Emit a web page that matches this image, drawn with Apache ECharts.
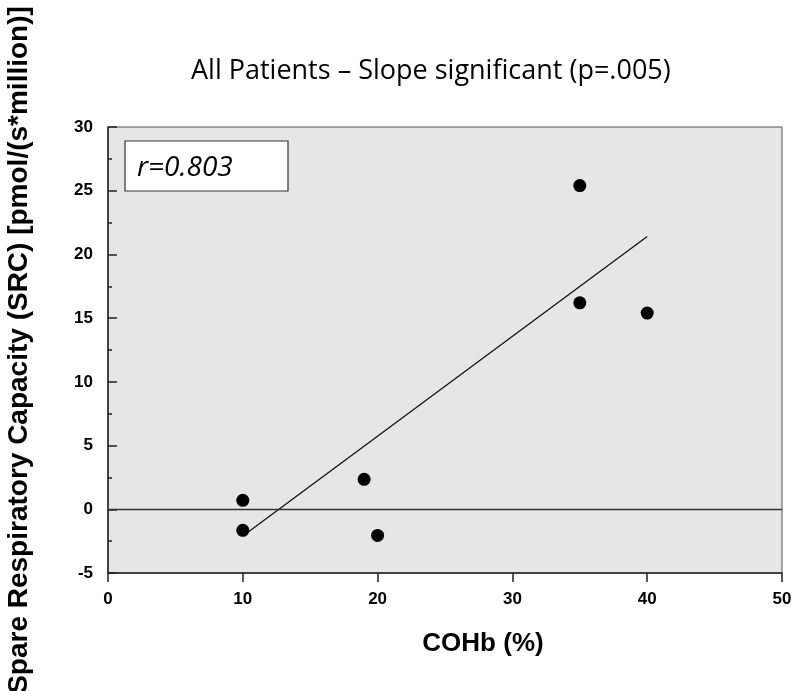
<!DOCTYPE html>
<html>
<head>
<meta charset="utf-8">
<script src="https://cdn.jsdelivr.net/npm/echarts@6/dist/echarts.min.js"></script>
<style>
  html, body { margin: 0; padding: 0; background: #fff; }
  #main { width: 800px; height: 691px; }
</style>
</head>
<body>
<div id="main"></div>
<script>
// COHb (%) vs spare respiratory capacity
const cohb = [10, 10, 19, 20, 35, 35, 40]
const src = [0.7, -1.65, 2.35, -2.05, 25.4, 16.2, 15.4]
// regression line end points
const fitX = [10, 40]
const fitY = [-2.1, 21.4]
const rText = 'r=0.803'

const chartDom = document.getElementById('main')
const myChart = echarts.init(chartDom)

const points = cohb.map((x, i) => [x, src[i]])
const fit = fitX.map((x, i) => [x, fitY[i]])

const labelFont = {
  fontFamily: 'Liberation Sans',
  fontWeight: 'bold',
  fontSize: 17,
  color: '#000',
}

let option = {
  backgroundColor: '#fff',
  animation: false,
  title: {
    text: 'All Patients – Slope significant (p=.005)',
    left: 186,
    top: 53,
    textStyle: {
      fontFamily: 'Open Sans',
      fontWeight: 'normal',
      fontSize: 27,
      color: '#000',
    },
  },
  grid: {
    left: 108,
    right: 18,
    top: 127,
    bottom: 118,
    outerBoundsMode: 'none',
    containLabel: false,
    show: true,
    backgroundColor: '#e6e6e6',
    borderColor: '#555',
    borderWidth: 1,
  },
  xAxis: {
    type: 'value',
    min: 0,
    max: 50,
    interval: 10,
    name: 'COHb (%)',
    nameLocation: 'middle',
    nameGap: 58,
    nameTextStyle: {
      fontFamily: 'Liberation Sans',
      fontWeight: 'bold',
      fontSize: 26,
      color: '#000',
      padding: [0, 0, 0, 76],
    },
    axisLine: { onZero: false, lineStyle: { color: '#222', width: 1.5 } },
    axisTick: { inside: false, length: 9, lineStyle: { color: '#222', width: 1.5 } },
    axisLabel: Object.assign({ margin: 18 }, labelFont),
    splitLine: { show: false },
  },
  yAxis: {
    type: 'value',
    min: -5,
    max: 30,
    interval: 5,
    name: 'Spare Respiratory Capacity (SRC) [pmol/(s*million)]',
    nameLocation: 'middle',
    nameGap: 75,
    nameTextStyle: {
      fontFamily: 'Liberation Sans',
      fontWeight: 'bold',
      fontSize: 28,
      color: '#000',
    },
    axisLine: { onZero: false, lineStyle: { color: '#222', width: 1.5 } },
    axisTick: { inside: true, length: 9, lineStyle: { color: '#222', width: 1.5 } },
    minorTick: { show: true, splitNumber: 2, length: 4, lineStyle: { color: '#222', width: 1.5 } },
    axisLabel: Object.assign({ margin: 15 }, labelFont),
    splitLine: { show: false },
  },
  series: [
    {
      name: 'fit',
      type: 'line',
      data: fit,
      symbol: 'none',
      lineStyle: { color: '#111', width: 1.3 },
      markLine: {
        silent: true,
        symbol: 'none',
        label: { show: false },
        lineStyle: { color: '#333', width: 1.3, type: 'solid' },
        data: [{ yAxis: 0 }],
      },
      z: 2,
    },
    {
      name: 'points',
      type: 'scatter',
      data: points,
      symbolSize: 13,
      itemStyle: { color: '#000', opacity: 1 },
      z: 3,
    },
  ],
  graphic: [
    {
      type: 'rect',
      shape: { x: 125, y: 141, width: 163, height: 50 },
      style: { fill: '#fff', stroke: '#333', lineWidth: 1.2 },
      z: 10,
    },
    {
      type: 'text',
      x: 137,
      y: 168,
      style: {
        text: rText,
        fontFamily: 'Open Sans',
        fontStyle: 'italic',
        fontSize: 28,
        fill: '#000',
        verticalAlign: 'middle',
      },
      z: 11,
    },
  ],
}
myChart.setOption(option)
</script>
</body>
</html>
